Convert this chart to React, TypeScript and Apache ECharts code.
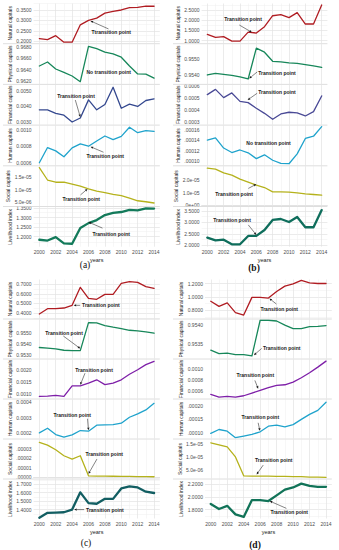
import React, { useEffect, useRef } from "react";
import * as echarts from "echarts";

// ---------- data ----------
const years = [2000, 2001, 2002, 2003, 2004, 2005, 2006, 2007, 2008, 2009, 2010, 2011, 2012, 2013, 2014];
const xTickYears = [2000, 2002, 2004, 2006, 2008, 2010, 2012, 2014];
const rowNames = ["Natural capitals", "Physical capitals", "Financial capitals", "Human capitals", "Social capitals", "Livelihood index"];
const panelTags = ["(a)", "(b)", "(c)", "(d)"];

// panel (a)
const natA = [0.213, 0.208, 0.227, 0.196, 0.196, 0.279, 0.300, 0.311, 0.335, 0.343, 0.350, 0.361, 0.363, 0.369, 0.368];
const physA = [0.96465, 0.96535, 0.96412, 0.96353, 0.96288, 0.96188, 0.96812, 0.9677, 0.9671, 0.9668, 0.9662, 0.96465, 0.96324, 0.9632, 0.9625];
const finA = [0.00379, 0.00378, 0.00357, 0.00345, 0.00302, 0.00327, 0.00442, 0.00379, 0.00413, 0.00522, 0.00389, 0.00415, 0.0040, 0.00438, 0.00448];
const humA = [0.0006, 0.000784, 0.000744, 0.000672, 0.00078, 0.000828, 0.0008, 0.000864, 0.000924, 0.00088, 0.00092, 0.00103, 0.000964, 0.00099, 0.00098];
const socA = [1.89e-5, 1.39e-5, 1.30e-5, 1.30e-5, 1.22e-5, 1.14e-5, 1.03e-5, 0.94e-5, 0.88e-5, 0.81e-5, 0.76e-5, 0.66e-5, 0.55e-5, 0.51e-5, 0.46e-5];
const livA = [1.184, 1.180, 1.198, 1.165, 1.163, 1.245, 1.271, 1.287, 1.313, 1.324, 1.329, 1.340, 1.338, 1.348, 1.347];

// panel (b)
const natB = [1.31, 1.16, 1.20, 0.98, 0.98, 1.42, 1.375, 1.685, 2.22, 2.27, 2.125, 2.37, 1.815, 1.815, 2.745];
const physB = [0.95398, 0.95409, 0.95402, 0.95396, 0.95385, 0.95372, 0.95572, 0.95546, 0.95487, 0.95483, 0.95476, 0.95474, 0.95465, 0.95457, 0.95448];
const finB = [0.000528, 0.000572, 0.000503, 0.000542, 0.000472, 0.000461, 0.000414, 0.000372, 0.000322, 0.000367, 0.000381, 0.000375, 0.00035, 0.000386, 0.000517];
const humB = [0.0001406, 0.0001448, 0.0001255, 0.000117, 0.0001218, 0.0001164, 0.0001055, 0.0001127, 0.0001024, 0.0000964, 0.0000958, 0.0001145, 0.0001436, 0.0001479, 0.000166];
const socB = [2.95e-5, 2.87e-5, 2.57e-5, 2.39e-5, 2.07e-5, 1.83e-5, 1.59e-5, 1.40e-5, 1.05e-5, 1.05e-5, 1.03e-5, 0.97e-5, 0.89e-5, 0.84e-5, 0.79e-5];
const livB = [2.335, 2.218, 2.247, 2.044, 2.044, 2.41, 2.41, 2.67, 3.11, 3.15, 3.02, 3.24, 2.79, 2.79, 3.54];

// panel (c)
const natC = [0.39, 0.445, 0.445, 0.452, 0.48, 0.668, 0.553, 0.543, 0.595, 0.595, 0.71, 0.728, 0.72, 0.675, 0.658];
const physC = [0.95367, 0.95361, 0.95355, 0.95342, 0.95339, 0.95339, 0.95594, 0.95591, 0.95567, 0.95552, 0.95539, 0.95524, 0.95518, 0.95509, 0.95497];
const finC = [0.00089, 0.000903, 0.00093, 0.00089, 0.00133, 0.00133, 0.00144, 0.00158, 0.00138, 0.00144, 0.00158, 0.00181, 0.0020, 0.00221, 0.00235];
const humC = [0.0002, 0.00023, 0.000189, 0.000172, 0.000187, 0.000215, 0.000211, 0.00025, 0.000252, 0.000254, 0.000263, 0.000302, 0.000324, 0.00035, 0.000393];
const socC = [3.71e-5, 3.43e-5, 2.93e-5, 2.29e-5, 1.93e-5, 2.29e-5, 0.14e-5, 0.11e-5, 0.10e-5, 0.09e-5, 0.08e-5, 0.07e-5, 0.06e-5, 0.05e-5, 0.04e-5];
const livC = [1.304, 1.362, 1.365, 1.369, 1.40, 1.604, 1.477, 1.469, 1.527, 1.527, 1.65, 1.673, 1.662, 1.612, 1.596];

// panel (d)
const natD = [0.935, 0.858, 0.911, 0.766, 0.728, 0.993, 0.993, 0.983, 1.08, 1.161, 1.195, 1.248, 1.21, 1.2, 1.2];
const physD = [0.95334, 0.95325, 0.95326, 0.95322, 0.95322, 0.95319, 0.95413, 0.95413, 0.95411, 0.954, 0.95391, 0.95391, 0.95396, 0.95397, 0.95399];
const finD = [0.000539, 0.000491, 0.000503, 0.000491, 0.000515, 0.000564, 0.000612, 0.000661, 0.000703, 0.000715, 0.000764, 0.000842, 0.000933, 0.001036, 0.001145];
const humD = [0.0000976, 0.000112, 0.000106, 0.0000819, 0.000088, 0.000094, 0.0001036, 0.000124, 0.0001277, 0.0001217, 0.00013, 0.000149, 0.0001675, 0.000182, 0.000212];
const socD = [1.54e-5, 1.46e-5, 1.38e-5, 0.99e-5, 0.256e-5, 0.244e-5, 0.244e-5, 0.244e-5, 0.232e-5, 0.23e-5, 0.22e-5, 0.22e-5, 0.207e-5, 0.205e-5, 0.195e-5];
const livD = [1.89, 1.81, 1.86, 1.725, 1.685, 1.95, 1.95, 1.935, 2.025, 2.115, 2.15, 2.21, 2.175, 2.16, 2.16];

// tick values and labels
const ticksA = [[0.2, 0.25, 0.3, 0.35], [0.962, 0.964, 0.966, 0.968], [0.003, 0.004, 0.005], [0.0006, 0.0008, 0.001], [5e-6, 1e-5, 1.5e-5], [1.2, 1.25, 1.3, 1.35]];
const tickLabelsA = [["0.2000", "0.2500", "0.3000", "0.3500"], ["0.9620", "0.9640", "0.9660", "0.9680"], ["0.0030", "0.0040", "0.0050"], ["0.0006", "0.0008", "0.0010"], ["5.0e-06", "1.0e-05", "1.5e-05"], ["1.2000", "1.2500", "1.3000", "1.3500"]];
const ticksB = [[1, 1.5, 2, 2.5], [0.954, 0.955], [0.0003, 0.0004, 0.0005, 0.0006], [0.0001, 0.00012, 0.00014, 0.00016], [0, 1e-5, 2e-5], [2, 2.5, 3, 3.5]];
const tickLabelsB = [["1.0000", "1.5000", "2.0000", "2.5000"], ["0.9540", "0.9550"], ["0.0003", "0.0004", "0.0005", "0.0006"], [".00010", ".00012", ".00014", ".00016"], [".0e+00", "1.0e-05", "2.0e-05"], ["2.0000", "2.5000", "3.0000", "3.5000"]];
const ticksC = [[0.4, 0.5, 0.6, 0.7], [0.953, 0.954, 0.955], [0.001, 0.0015, 0.002], [0.0002, 0.0003, 0.0004], [0, 1e-5, 2e-5, 3e-5], [1.4, 1.5, 1.6, 1.7]];
const tickLabelsC = [["0.4000", "0.5000", "0.6000", "0.7000"], ["0.9530", "0.9540", "0.9550"], ["0.0010", "0.0015", "0.0020"], ["0.0002", "0.0003", "0.0004"], [".00000", ".00001", ".00002", ".00003"], ["1.4000", "1.5000", "1.6000", "1.7000"]];
const ticksD = [[0.8, 1.0, 1.2], [0.9535, 0.954], [0.0006, 0.0008, 0.001], [0.0001, 0.00015, 0.0002], [5e-6, 1e-5, 1.5e-5], [1.8, 2.0, 2.2]];
const tickLabelsD = [["0.8000", "1.0000", "1.2000"], ["0.9535", "0.9540"], ["0.0006", "0.0008", "0.0010"], [".00010", ".00015", ".00020"], ["5.0e-06", "1.0e-05", "1.5e-05"], ["1.8000", "2.0000", "2.2000"]];

// y-axis ranges [min, max]
const rangesA = [[0.191, 0.3811], [0.96149, 0.96849], [0.002854, 0.005367], [0.000569, 0.00105], [3.38e-6, 1.945e-5], [1.1477, 1.3552]];
const rangesB = [[0.878, 2.8175], [0.9534, 0.95598], [0.000278, 0.000609], [0.0000928, 0.000168], [-0.08e-5, 3.1e-5], [1.939, 3.675]];
const rangesC = [[0.3425, 0.75], [0.95267, 0.95622], [0.0008, 0.002425], [0.000163, 0.000418], [-0.15e-5, 4.03e-5], [1.295, 1.7554]];
const rangesD = [[0.677, 1.26], [0.95312, 0.95415], [0.000465, 0.001175], [0.000079, 0.000222], [0.15e-5, 1.668e-5], [1.66, 2.275]];

// ---------- styles / layout ----------
const colorsA = ["#b01c22", "#17875a", "#34488f", "#1fa3cc", "#b5b21c", "#137a5a"];
const colorsB = ["#b01c22", "#17875a", "#4a4a96", "#1fa3cc", "#b5b21c", "#0f6e5c"];
const colorsC = ["#b01c22", "#17875a", "#7e1fa8", "#1fa3cc", "#b5b21c", "#125e62"];
const colorsD = ["#b01c22", "#17875a", "#7e1fa8", "#1fa3cc", "#b5b21c", "#117358"];

const panelLayout = [
  { left: 33.6, width: 126.2, top0: 3.5, pitch: 40.7, h: 39.7, nameGap: 21, sepX0: 3, tag: [85, 265], bold: false },
  { left: 201.6, width: 125.8, top0: 3.5, pitch: 40.7, h: 39.7, nameGap: 19, sepX0: 173, tag: [254, 268], bold: true },
  { left: 33.6, width: 126.2, top0: 279.5, pitch: 40, h: 39, nameGap: 21, sepX0: 3, tag: [86, 543], bold: false },
  { left: 205, width: 126.8, top0: 279.5, pitch: 40, h: 39, nameGap: 21, sepX0: 173, tag: [255, 545], bold: true },
];

// annotations: pixel offsets relative to a data point
const annotations = [
  { p: 0, r: 0, year: 2006, text: "Ttransition point", tip: [2, 0.5], tail: [20, 8.5], label: [3, 12] },
  { p: 0, r: 1, year: 2006, text: "No transition point", label: [-2, 25.4] },
  { p: 0, r: 2, year: 2005, text: "Transition point", tip: [0, -1], tail: [-5, -18], label: [-23, -22] },
  { p: 0, r: 3, year: 2006, text: "Transition point", tip: [2, 0.5], tail: [15, 6], label: [-2, 10] },
  { p: 0, r: 4, year: 2006, text: "Transition point", tip: [-1, 0], tail: [-8, 6], label: [-26, 10] },
  { p: 0, r: 5, year: 2006, text: "Transition point", tip: [0, -1], tail: [14, 5], label: [4, 11] },
  { p: 1, r: 0, year: 2006, text: "Transition point", tip: [-4.5, -0.7], tail: [-17, -8], label: [-32, -14] },
  { p: 1, r: 1, year: 2005, text: "Transition point", tip: [1, -0.5], tail: [9, -7], label: [10, -6.3] },
  { p: 1, r: 2, year: 2005, text: "Transition point", tip: [-0.5, -2.7], tail: [9, -9.4], label: [10, -10.4] },
  { p: 1, r: 3, year: 2006, text: "No transition point", label: [-10, -16] },
  { p: 1, r: 4, year: 2006, text: "Transition point", tip: [0, -1], tail: [-8, 3.3], label: [-41, 9] },
  { p: 1, r: 5, year: 2006, text: "Transition point", tip: [0, -1], tail: [-8, -11], label: [-43, -16] },
  { p: 2, r: 0, year: 2004, text: "Transition point", tip: [1.5, 0], tail: [8, 0], label: [10, 0] },
  { p: 2, r: 1, year: 2005, text: "Transition point", tip: [0, -2], tail: [-17, -14.6], label: [-35, -18] },
  { p: 2, r: 2, year: 2005, text: "Transition point", tip: [0, -1], tail: [4.7, -12.6], label: [-5, -16] },
  { p: 2, r: 3, year: 2006, text: "Transition point", tip: [0, -1], tail: [-1, -12.4], label: [-35, -15.7] },
  { p: 2, r: 4, year: 2006, text: "Transition point", tip: [0, -2], tail: [8.4, -16.7], label: [-3, -21.7] },
  { p: 2, r: 5, year: 2004, text: "Transition point", tip: [2, 0], tail: [12, 0], label: [14, 0] },
  { p: 3, r: 0, year: 2007, text: "Transition point", tip: [1, 0.5], tail: [8, 6], label: [-8, 11] },
  { p: 3, r: 1, year: 2005, text: "Transition point", tip: [2, -0.7], tail: [9.7, -7.4], label: [11, -7.4] },
  { p: 3, r: 2, year: 2006, text: "Transition point", tip: [-2, -1.7], tail: [-5.3, -10], label: [-23.6, -15.7] },
  { p: 3, r: 3, year: 2006, text: "Transition point", tip: [-0.3, -1], tail: [-2, -9], label: [-18.6, -14.4] },
  { p: 3, r: 4, year: 2005, text: "Transition point", tip: [4.7, -1.7], tail: [11.3, -11], label: [3, -16] },
  { p: 3, r: 5, year: 2007, text: "Transition point", tip: [1.3, 0], tail: [18, 7.3], label: [2, 10.6] },
];

const FONT = '"Liberation Sans", Arial, Helvetica, sans-serif';
const SERIF = '"Liberation Serif", "DejaVu Serif", serif';

const panelData = [
  [natA, physA, finA, humA, socA, livA],
  [natB, physB, finB, humB, socB, livB],
  [natC, physC, finC, humC, socC, livC],
  [natD, physD, finD, humD, socD, livD],
];
const panelTicks = [ticksA, ticksB, ticksC, ticksD];
const panelTickLabels = [tickLabelsA, tickLabelsB, tickLabelsC, tickLabelsD];
const panelRanges = [rangesA, rangesB, rangesC, rangesD];
const panelColors = [colorsA, colorsB, colorsC, colorsD];

function buildOption() {
  const grid: any[] = [];
  const xAxis: any[] = [];
  const yAxis: any[] = [];
  const series: any[] = [];
  let g = 0;
  for (let p = 0; p < 4; p++) {
    const L = panelLayout[p];
    for (let r = 0; r < 6; r++) {
      const top = L.top0 + r * L.pitch;
      grid.push({ left: L.left, top, width: L.width, height: L.h, containLabel: false });
      const isBottom = r === 5;
      xAxis.push({
        type: "value", gridIndex: g, min: 1999.3, max: 2014.7,
        axisLine: { show: false }, axisTick: { show: false }, splitLine: { show: false },
        axisLabel: {
          show: isBottom, customValues: xTickYears, fontSize: 5, color: "#4d4d4d", margin: 3,
          fontFamily: FONT, formatter: (v: number) => String(Math.round(v)),
        },
        name: isBottom ? "years" : "", nameLocation: "middle", nameGap: 10,
        nameTextStyle: { fontSize: 5.5, color: "#1a1a1a", fontFamily: FONT },
      });
      const ticks = panelTicks[p][r];
      const labs = panelTickLabels[p][r];
      const [mn, mx] = panelRanges[p][r];
      yAxis.push({
        type: "value", gridIndex: g, min: mn, max: mx, scale: true,
        axisLine: { show: false }, axisTick: { show: false }, splitLine: { show: false },
        axisLabel: {
          customValues: ticks, fontSize: 5, color: "#4d4d4d", margin: 2, fontFamily: FONT,
          formatter: (v: number) => {
            let best = 0;
            for (let i = 1; i < ticks.length; i++) if (Math.abs(ticks[i] - v) < Math.abs(ticks[best] - v)) best = i;
            return labs[best];
          },
        },
        name: rowNames[r], nameLocation: "middle", nameGap: L.nameGap,
        nameTextStyle: { fontSize: 5, color: "#1a1a1a", fontFamily: FONT },
      });
      // grid lines
      const gl: any[] = [];
      const step = ticks.length > 1 ? ticks[1] - ticks[0] : 0;
      const minors: number[] = [];
      for (let i = 0; i < ticks.length - 1; i++) minors.push((ticks[i] + ticks[i + 1]) / 2);
      if (step) {
        minors.push(ticks[0] - step / 2);
        minors.push(ticks[ticks.length - 1] + step / 2);
      }
      minors.forEach((v) => { if (v > mn && v < mx) gl.push({ yAxis: v, lineStyle: { color: "#efefef", width: 0.5, type: "solid" } }); });
      ticks.forEach((v) => { if (v >= mn && v <= mx) gl.push({ yAxis: v, lineStyle: { color: "#e2e2e2", width: 0.7, type: "solid" } }); });
      years.forEach((yr) => {
        const major = xTickYears.indexOf(yr) >= 0;
        gl.push({ xAxis: yr, lineStyle: { color: major ? "#e2e2e2" : "#efefef", width: major ? 0.7 : 0.5, type: "solid" } });
      });
      series.push({
        type: "line", xAxisIndex: g, yAxisIndex: g, data: [], silent: true,
        markLine: { silent: true, z: 1, symbol: ["none", "none"], label: { show: false }, animation: false, data: gl },
      });
      const vals = panelData[p][r];
      series.push({
        type: "line", xAxisIndex: g, yAxisIndex: g, z: 3, silent: true, clip: false,
        symbol: "none", data: years.map((yr, i) => [yr, vals[i]]),
        lineStyle: { color: panelColors[p][r], width: r === 5 ? 2.3 : 1.3, cap: "round", join: "round" },
      });
      g++;
    }
  }
  return {
    animation: false,
    backgroundColor: "#ffffff",
    textStyle: { fontFamily: FONT },
    grid, xAxis, yAxis, series,
  };
}

export default function App() {
  const ref = useRef<HTMLDivElement>(null);
  useEffect(() => {
    if (!ref.current) return;
    const chart = echarts.init(ref.current, null, { renderer: "svg", width: 339, height: 550 });
    chart.setOption(buildOption() as any);

    const gfx: any[] = [];
    // separators between rows
    for (let p = 0; p < 4; p++) {
      const L = panelLayout[p];
      for (let r = 1; r < 6; r++) {
        const y = L.top0 + r * L.pitch - (L.pitch - L.h) / 2;
        gfx.push({ type: "line", silent: true, z: 5, shape: { x1: L.sepX0, y1: y, x2: L.left + L.width, y2: y }, style: { stroke: "#d6d6d6", lineWidth: 0.8 } });
      }
      gfx.push({
        type: "text", silent: true, z: 5, x: L.tag[0], y: L.tag[1],
        style: { text: panelTags[p], fontSize: 9.5, fontFamily: SERIF, fontWeight: L.bold ? "bold" : "normal", fill: "#111", align: "center", verticalAlign: "middle" },
      });
    }
    // annotations
    annotations.forEach((a) => {
      const gi = a.p * 6 + a.r;
      const v = panelData[a.p][a.r][years.indexOf(a.year)];
      const pt = chart.convertToPixel({ gridIndex: gi } as any, [a.year, v]) as number[];
      if (!pt) return;
      const [px, py] = pt;
      if (a.tip && a.tail) {
        const x2 = px + a.tip[0], y2 = py + a.tip[1];
        const x1 = px + a.tail[0], y1 = py + a.tail[1];
        const dx = x2 - x1, dy = y2 - y1;
        const len = Math.sqrt(dx * dx + dy * dy) || 1;
        const ux = dx / len, uy = dy / len;
        const hl = 2.6, hw = 1.2;
        const bx = x2 - ux * hl, by = y2 - uy * hl;
        gfx.push({ type: "line", silent: true, z: 10, shape: { x1, y1, x2: bx, y2: by }, style: { stroke: "#333", lineWidth: 0.6 } });
        gfx.push({
          type: "polygon", silent: true, z: 10,
          shape: { points: [[x2, y2], [bx - uy * hw, by + ux * hw], [bx + uy * hw, by - ux * hw]] },
          style: { fill: "#1a1a1a" },
        });
      }
      gfx.push({
        type: "text", silent: true, z: 10, x: px + a.label[0], y: py + a.label[1],
        style: { text: a.text, fontSize: 5, fontWeight: "bold", fontFamily: FONT, fill: "#222", align: "left", verticalAlign: "middle" },
      });
    });
    chart.setOption({ graphic: gfx } as any);
    return () => chart.dispose();
  }, []);
  return <div ref={ref} style={{ position: "absolute", left: 0, top: 0, width: 339, height: 550 }} />;
}
